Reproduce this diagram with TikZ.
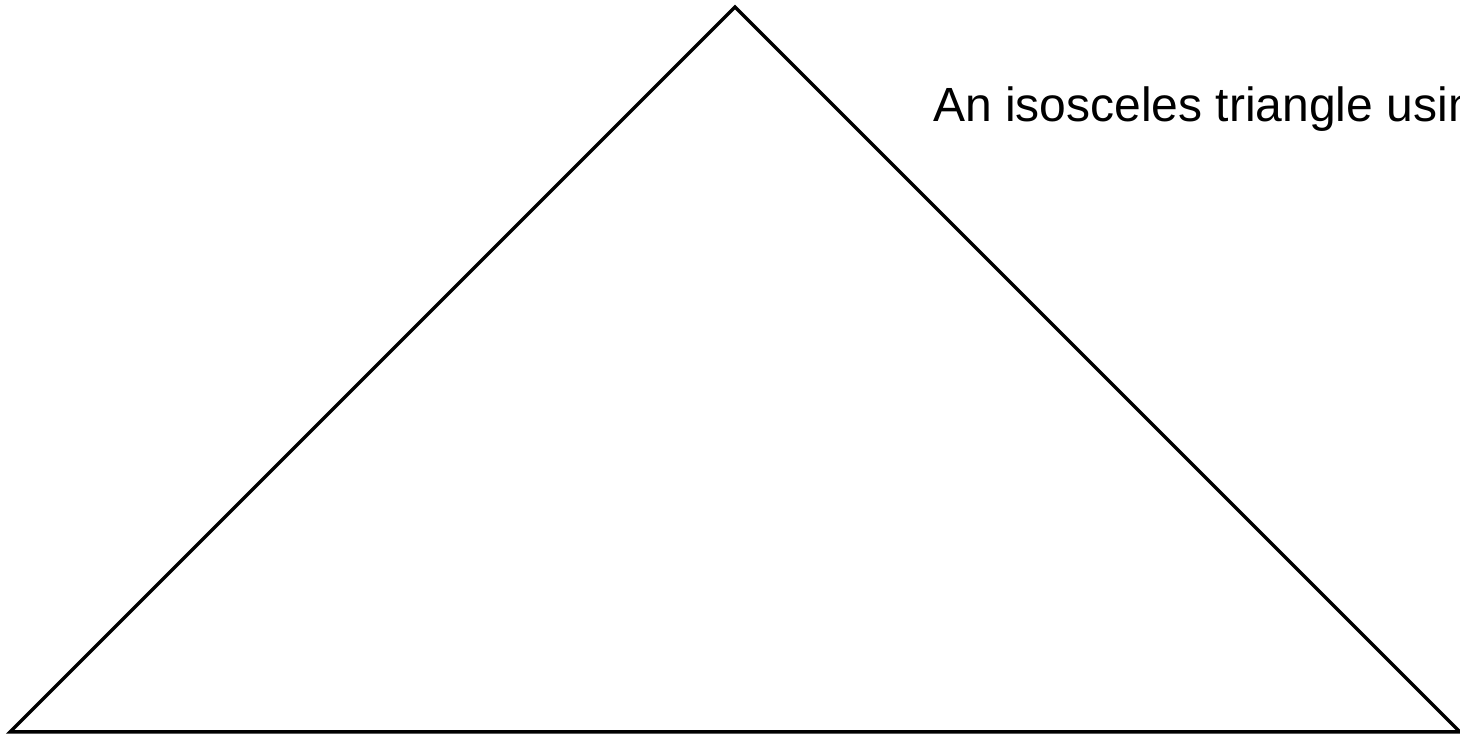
\documentclass[tikz,border=0pt]{standalone}
\usepackage{fontspec}
\setmainfont{Liberation Sans}
\tikzset{
  triline/.style={draw=black, line width=3.5pt, line join=miter},
  caption/.style={inner sep=0pt, anchor=base west, font=\fontsize{48}{58}\selectfont}
}
\begin{document}
\begin{tikzpicture}[x=1pt,y=1pt]
  \useasboundingbox (0,0) rectangle (1460,735);
  \clip (0,0) rectangle (1460,735);
  \fill[white] (0,0) rectangle (1460,735);
  \coordinate (bl) at (10,3);
  \coordinate (br) at (1460,3);
  \coordinate (ap) at (735,728);
  \draw[triline] (bl) -- (ap) -- (br) -- cycle;
  \node[caption] (cap) at (933,613) {An isosceles triangle using};
\end{tikzpicture}
\end{document}
